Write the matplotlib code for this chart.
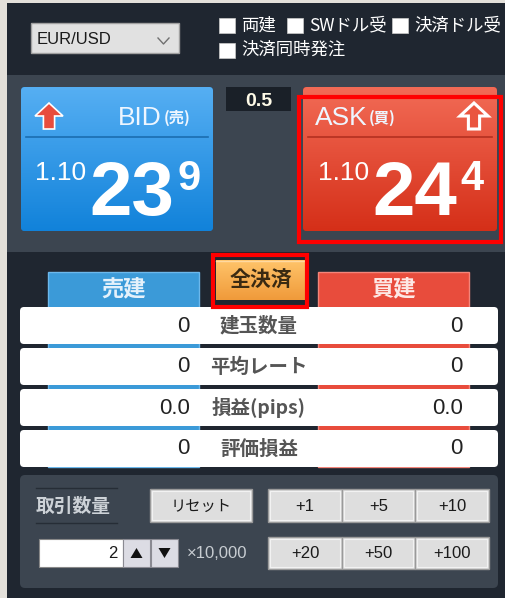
import numpy as np
import matplotlib
matplotlib.use('Agg')
import matplotlib.pyplot as plt
from matplotlib.patches import Rectangle, FancyBboxPatch, Polygon
from matplotlib.colors import LinearSegmentedColormap

plt.rcParams['font.family'] = ['Liberation Sans', 'Noto Sans CJK JP', 'DejaVu Sans']
JP = ['Noto Sans CJK JP', 'DejaVu Sans']

# --- 画面に表示される値 ---
pair = "EUR/USD"
option_labels = ["両建", "SWドル受", "決済ドル受", "決済同時発注"]
spread = "0.5"
bid_price = ["1.10", "23", "9"]
ask_price = ["1.10", "24", "4"]
side_labels = ["売建", "全決済", "買建"]
row_labels = ["建玉数量", "平均レート", "損益(pips)", "評価損益"]
sell_values = ["0", "0", "0.0", "0"]
buy_values = ["0", "0", "0.0", "0"]
qty_label = "取引数量"
reset_label = "リセット"
qty_buttons = ["+1", "+5", "+10", "+20", "+50", "+100"]
quantity = 2
unit_label = "×10,000"


def rbox(ax, x0, y0, x1, y1, fc, ec='none', lw=0, r=3, z=1):
    p = FancyBboxPatch((x0 + r, y0 + r), x1 - x0 - 2 * r, y1 - y0 - 2 * r,
                       boxstyle=f"round,pad={r}", fc=fc, ec=ec, lw=lw, zorder=z)
    ax.add_patch(p)
    return p


def gradient(ax, patch, x0, y0, x1, y1, top, bottom, z=2):
    cmap = LinearSegmentedColormap.from_list('g', [top, bottom])
    im = ax.imshow(np.linspace(0, 1, 256).reshape(-1, 1), cmap=cmap,
                   extent=(x0, x1, y1, y0), aspect='auto', zorder=z)
    im.set_clip_path(patch)


def arrow(ax, x0, y0, w, h, fc, ec, lw):
    pts = [(x0, y0 + 0.5 * h), (x0 + w / 2, y0), (x0 + w, y0 + 0.5 * h),
           (x0 + 0.7 * w, y0 + 0.5 * h), (x0 + 0.7 * w, y0 + h),
           (x0 + 0.3 * w, y0 + h), (x0 + 0.3 * w, y0 + 0.5 * h)]
    ax.add_patch(Polygon(pts, closed=True, fc=fc, ec=ec, lw=lw, zorder=5, joinstyle='miter'))


def button(ax, x0, y0, x1, y1, label, size=12, family=None):
    ax.add_patch(Rectangle((x0, y0), x1 - x0, y1 - y0, fc='#dedede', ec='#9a9a9a', lw=1, zorder=3))
    ax.add_patch(Rectangle((x0 + 2, y0 + 2), x1 - x0 - 4, y1 - y0 - 4, fc='none', ec='#f2f2f2', lw=0.8, zorder=4))
    kw = {'family': family} if family else {}
    ax.text((x0 + x1) / 2, (y0 + y1) / 2 + 1, label, ha='center', va='center',
            fontsize=size, color='#1a1a1a', zorder=5, **kw)


fig = plt.figure(figsize=(5.06, 5.98), dpi=100)
fig.patch.set_facecolor('#e3e0da')
ax = fig.add_axes([0, 0, 1, 1])
ax.set_xlim(0, 506)
ax.set_ylim(598, 0)
ax.axis('off')

# 背景
ax.add_patch(Rectangle((7, 3), 499, 595, fc='#1f2630', ec='none', zorder=0))
ax.add_patch(Rectangle((7, 75), 499, 177, fc='#3c4550', ec='none', zorder=0))

# ヘッダー: 通貨ペア選択
ax.add_patch(Rectangle((31, 23), 148, 30, fc='#e1e1e1', ec='#a0a0a0', lw=1, zorder=2))
ax.text(37, 39, pair, ha='left', va='center', fontsize=12, color='#1a1a1a', zorder=3)
ax.plot([158, 163.5, 169], [38, 44, 38], color='#707070', lw=1, zorder=3)

# チェックボックス
opt_pos = [(219, 25), (287, 25), (392, 25), (219, 50)]
for (cx, cy), lab in zip(opt_pos, option_labels):
    ax.add_patch(Rectangle((cx, cy - 7.5), 16, 15, fc='white', ec='#cccccc', lw=0.5, zorder=2))
    ax.text(cx + 22, cy, lab, ha='left', va='center', fontsize=12.5, color='white',
            family=JP, zorder=3)

# スプレッド
ax.add_patch(Rectangle((226, 87), 65, 24, fc='#1a2028', ec='none', zorder=2))
ax.text(258.5, 101, spread, ha='center', va='center', fontsize=14, weight='bold',
        color='#fffbe8', zorder=3)

# BID / ASK パネル
panels = [
    dict(x0=21, x1=213, top='#56aff3', bottom='#1182da', line='#1b6db0',
         price=bid_price, xs=(35, 89, 178), name="BID", tag="(売)", nx=118, tx=164,
         arr=(35, 63), afc='#e84c3d', aec='white', alw=1.2),
    dict(x0=303, x1=497, top='#f26b56', bottom='#d52f18', line='#b43020',
         price=ask_price, xs=(318, 372, 460), name="ASK", tag="(買)", nx=315, tx=369,
         arr=(460, 488), afc='#ea553f', aec='white', alw=2.2),
]
for pn in panels:
    p = rbox(ax, pn['x0'], 87, pn['x1'], 231, fc=pn['bottom'], r=4, z=1)
    gradient(ax, p, pn['x0'], 87, pn['x1'], 231, pn['top'], pn['bottom'])
    ax.plot([pn['x0'] + 5, pn['x1'] - 5], [137, 137], color=pn['line'], lw=1.2, zorder=4)
    ax.text(pn['nx'], 125, pn['name'], ha='left', va='baseline', fontsize=19,
            color='#eef6ff', zorder=5)
    ax.text(pn['tx'], 123, pn['tag'], ha='left', va='baseline', fontsize=11,
            color='#eef6ff', weight='bold', family=JP, zorder=5)
    a0, a1 = pn['arr']
    arrow(ax, a0, 103, a1 - a0, 26, pn['afc'], pn['aec'], pn['alw'])
    big, mid, small = pn['price']
    ax.text(pn['xs'][0], 180, big, ha='left', va='baseline', fontsize=19,
            color='white', zorder=5)
    ax.text(pn['xs'][1], 215, mid, ha='left', va='baseline', fontsize=55,
            weight='bold', color='white', zorder=5)
    ax.text(pn['xs'][2], 190, small, ha='left', va='baseline', fontsize=30,
            weight='bold', color='white', zorder=5)

# ASK 強調枠
ax.add_patch(Rectangle((299.5, 96.5), 202, 145, fc='none', ec='#ff0000', lw=3, zorder=6))

# 売建 / 買建 の列
ax.add_patch(Rectangle((48, 272), 151, 195, fc='#3b9ad8', ec='#6cb8ec', lw=1, zorder=1))
ax.add_patch(Rectangle((318, 272), 151, 195, fc='#e84c3c', ec='#f4857a', lw=1, zorder=1))
ax.text(123.5, 290, side_labels[0], ha='center', va='center', fontsize=16, weight='bold',
        color='#e4f1fb', family=JP, zorder=2)
ax.text(393.5, 290, side_labels[2], ha='center', va='center', fontsize=16, weight='bold',
        color='#fde8e5', family=JP, zorder=2)

# 全決済ボタン
bp = Rectangle((216, 260), 89, 40, fc='#f5a848', ec='none', zorder=2)
ax.add_patch(bp)
gradient(ax, bp, 216, 260, 305, 300, '#ffc46a', '#f09a3a', z=2)
ax.plot([216, 305], [261, 261], color='#ffd9a0', lw=1, zorder=3)
ax.text(260.5, 280, side_labels[1], ha='center', va='center', fontsize=15, weight='bold',
        color='#3a2a12', family=JP, zorder=4)
ax.add_patch(Rectangle((213.5, 254.5), 94, 52, fc='none', ec='#ff0000', lw=3, zorder=6))

# 建玉情報の行
row_tops = [307, 348, 389, 430]
for top, lab, sv, bv in zip(row_tops, row_labels, sell_values, buy_values):
    rbox(ax, 20, top, 498, top + 37, fc='white', r=4, z=3)
    yc = top + 19
    ax.text(259, yc, lab, ha='center', va='center', fontsize=14, weight='bold',
            color='#555555', family=JP, zorder=4)
    ax.text(190, yc, sv, ha='right', va='center', fontsize=16, color='#222222', zorder=4)
    ax.text(463, yc, bv, ha='right', va='center', fontsize=16, color='#222222', zorder=4)

# 取引数量パネル
rbox(ax, 20, 475, 498, 588, fc='#3c4550', r=5, z=1)
ax.plot([36, 117], [488, 488], color='#262d36', lw=1, zorder=2)
ax.plot([36, 117], [523, 523], color='#262d36', lw=1, zorder=2)
ax.text(36, 506, qty_label, ha='left', va='center', fontsize=13.5, weight='bold',
        color='#cdd2d7', family=JP, zorder=3)
button(ax, 150, 489, 252, 522, reset_label, size=11, family=JP)

col_edges = [268, 342, 415, 489]
row_edges = [(489, 522), (537, 569)]
for i, lab in enumerate(qty_buttons):
    r, c = divmod(i, 3)
    button(ax, col_edges[c], row_edges[r][0], col_edges[c + 1], row_edges[r][1], lab, size=12)

# 数量入力
ax.add_patch(Rectangle((39, 539), 84, 28, fc='white', ec='#888888', lw=0.8, zorder=3))
ax.text(118, 554, str(quantity), ha='right', va='center', fontsize=12, color='#1a1a1a', zorder=4)
for bx, up in [(123, True), (151, False)]:
    ax.add_patch(Rectangle((bx, 539), 27, 28, fc='#dcdce4', ec='#8a8a92', lw=0.8, zorder=3))
    cx = bx + 13.5
    if up:
        tri = [(cx - 6, 558), (cx + 6, 558), (cx, 548)]
    else:
        tri = [(cx - 6, 548), (cx + 6, 548), (cx, 558)]
    ax.add_patch(Polygon(tri, closed=True, fc='#111111', ec='none', zorder=4))
ax.text(187, 554, unit_label, ha='left', va='center', fontsize=12, color='#c8cdd2', zorder=3)

fig.savefig('out.png', dpi=100, facecolor=fig.get_facecolor())
